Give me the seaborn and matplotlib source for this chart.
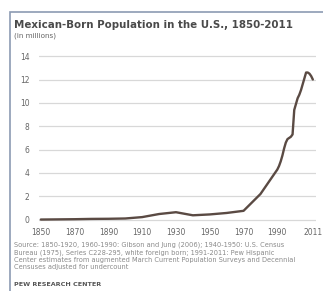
import matplotlib
matplotlib.use("Agg")
import matplotlib.pyplot as plt
import seaborn as sns
import pandas as pd
from matplotlib.patches import Rectangle

years = [1850, 1860, 1870, 1880, 1890, 1900, 1910, 1920, 1930, 1940, 1950,
         1960, 1970, 1980, 1990, 1991, 1992, 1993, 1994, 1995, 1996, 1997,
         1998, 1999, 2000, 2001, 2002, 2003, 2004, 2005, 2006, 2007, 2008,
         2009, 2010, 2011]
population = [0.013, 0.027, 0.042, 0.068, 0.078, 0.103, 0.222, 0.486, 0.641,
              0.377, 0.451, 0.576, 0.760, 2.199, 4.298, 4.6, 5.0, 5.5, 6.1,
              6.6, 6.9, 7.0, 7.1, 7.3, 9.4, 9.9, 10.4, 10.7, 11.1, 11.6,
              12.1, 12.6, 12.6, 12.5, 12.3, 12.0]
x_ticks = [1850, 1870, 1890, 1910, 1930, 1950, 1970, 1990, 2011]
y_ticks = [0, 2, 4, 6, 8, 10, 12, 14]

df = pd.DataFrame({"year": years, "population": population})

sns.set_style("white")
plt.rcParams["font.family"] = ["DejaVu Sans"]

fig = plt.figure(figsize=(3.23, 2.91), dpi=100)
ax = fig.add_axes([0.121, 0.237, 0.858, 0.578])

# light frame around the graphic
fig.patches.append(Rectangle((10 / 323, -0.1), 1.2, 1 - 12 / 291 + 0.1,
                             transform=fig.transFigure, fill=False,
                             edgecolor="#8c9bb3", linewidth=1.2))

sns.lineplot(data=df, x="year", y="population", ax=ax, color="#5a4a43",
             linewidth=1.7)

ax.set_xlim(1849, 2013)
ax.set_ylim(-0.2, 14.2)
ax.set_xticks(x_ticks)
ax.set_xticklabels([str(t) for t in x_ticks])
ax.set_yticks(y_ticks)
ax.yaxis.grid(True, color="#d8d8d8", linewidth=0.9)
ax.set_axisbelow(True)
for s in ax.spines.values():
    s.set_visible(False)
ax.tick_params(axis="x", length=2, color="#bbbbbb", labelsize=5.5, labelcolor="#666666", pad=2)
ax.tick_params(axis="y", length=0, labelsize=5.5, labelcolor="#666666", pad=7)
ax.set_xlabel("")
ax.set_ylabel("")

fig.text(14 / 323, 1 - 25 / 291, "Mexican-Born Population in the U.S., 1850-2011",
         fontsize=7.4, fontweight="bold", color="#4a4a4a", va="center")
fig.text(14 / 323, 1 - 36 / 291, "(in millions)", fontsize=5.2, color="#666666",
         va="center")

source = ("Source: 1850-1920, 1960-1990: Gibson and Jung (2006); 1940-1950: U.S. Census\n"
          "Bureau (1975), Series C228-295, white foreign born; 1991-2011: Pew Hispanic\n"
          "Center estimates from augmented March Current Population Surveys and Decennial\n"
          "Censuses adjusted for undercount")
fig.text(14 / 323, 1 - 242 / 291, source, fontsize=4.8, color="#8a8a8a",
         va="top", linespacing=1.2)
fig.text(14 / 323, 1 - 285 / 291, "PEW RESEARCH CENTER", fontsize=4.6,
         fontweight="bold", color="#555555", va="center")

fig.savefig("out.png", dpi=100)
